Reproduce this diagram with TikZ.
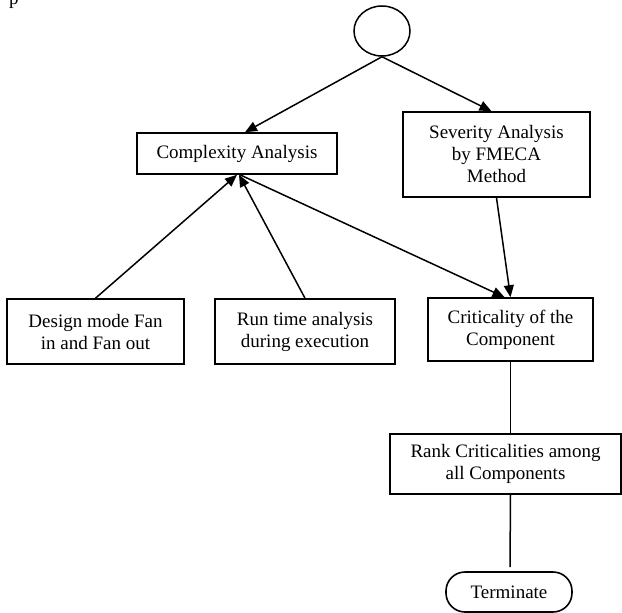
\documentclass[tikz,border=0pt]{standalone}
\usepackage{fontspec}
\setmainfont{Liberation Serif}
\usetikzlibrary{arrows.meta,shapes.geometric,calc}
\tikzset{
  box/.style={draw, line width=1.6pt, rectangle, inner sep=0pt, align=center,
    font=\fontsize{19}{22}\selectfont},
  arr/.style={line width=1.5pt, -{Triangle[length=12pt,width=10pt]}},
  ln/.style={line width=1.5pt}
}
\begin{document}
\begin{tikzpicture}[x=1pt,y=-1pt]
\useasboundingbox (0,0) rectangle (622,613);
\node[anchor=base west, inner sep=0pt, font=\fontsize{19}{22}\selectfont] (frag) at (9,5) {p};
\node[draw, line width=1.5pt, ellipse, minimum width=56pt, minimum height=50pt, inner sep=0pt] (circ) at (382,31) {};
\node[box, minimum width=200pt, minimum height=41pt] (cplx) at (237,153.5) {Complexity Analysis};
\node[box, minimum width=187pt, minimum height=85pt] (sev) at (496.5,154.5) {Severity Analysis\\by FMECA\\Method};
\node[box, minimum width=177pt, minimum height=65pt] (des) at (95.5,331.5) {Design mode Fan\\in and Fan out};
\node[box, minimum width=180pt, minimum height=65pt] (run) at (305,331.5) {Run time analysis\\during execution};
\node[box, minimum width=165pt, minimum height=63pt] (crit) at (510.5,329.5) {Criticality of the\\Component};
\node[box, minimum width=231pt, minimum height=60pt] (rank) at (505.5,464) {Rank Criticalities among\\all Components};
\node[box, rounded corners=19pt, minimum width=126pt, minimum height=40pt] (term) at (509,592) {Terminate};
\coordinate (tend) at (510,567);
\draw[arr] (circ.south) -- ([xshift=8pt]cplx.north);
\draw[arr] (circ.south) -- ([xshift=-5pt]sev.north);
\draw[arr] (des.north) -- ([xshift=0pt]cplx.south);
\draw[arr] (run.north) -- ([xshift=2pt]cplx.south);
\draw[arr] ([xshift=3pt]cplx.south) -- ([xshift=-6pt]crit.north);
\draw[arr] (sev.south) -- (crit.north);
\draw[ln] (crit.south) -- (crit.south |- rank.north);
\draw[ln] (crit.south |- rank.south) -- (tend);
\end{tikzpicture}
\end{document}
